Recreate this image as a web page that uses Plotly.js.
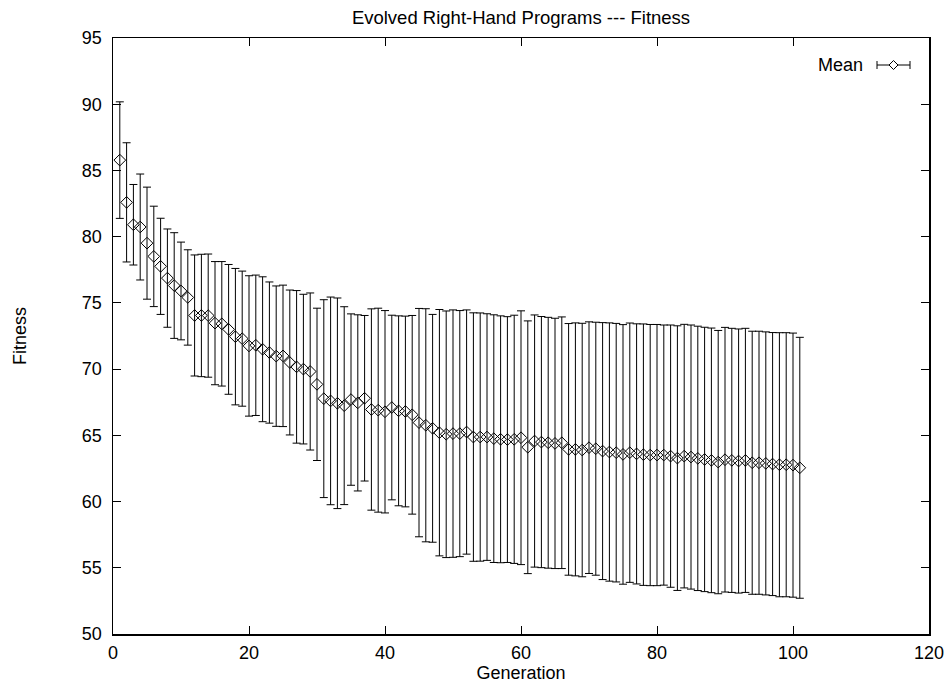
<!DOCTYPE html>
<html>
<head>
<meta charset="utf-8">
<script src="https://cdn.plot.ly/plotly-3.0.1.min.js"></script>
<style>
  html, body { margin: 0; padding: 0; background: #fff; }
  #chart { width: 950px; height: 683px; }
</style>
</head>
<body>
<div id="chart"></div>
<script>
// Generation numbers
const generation = [
  1,2,3,4,5,6,7,8,9,10,11,12,13,14,15,16,17,18,19,20,
  21,22,23,24,25,26,27,28,29,30,31,32,33,34,35,36,37,38,39,40,
  41,42,43,44,45,46,47,48,49,50,51,52,53,54,55,56,57,58,59,60,
  61,62,63,64,65,66,67,68,69,70,71,72,73,74,75,76,77,78,79,80,
  81,82,83,84,85,86,87,88,89,90,91,92,93,94,95,96,97,98,99,100,101
];

// Mean fitness per generation
const meanFitness = [
  85.78,82.59,80.90,80.73,79.51,78.51,77.76,76.87,76.31,75.90,
  75.41,74.05,74.05,74.04,73.47,73.42,73.00,72.45,72.30,71.75,
  71.80,71.50,71.25,70.98,71.00,70.50,70.17,70.00,69.82,68.85,
  67.77,67.60,67.42,67.24,67.70,67.45,67.80,66.95,66.90,66.78,
  67.10,66.85,66.80,66.55,65.96,65.76,65.53,65.20,65.08,65.13,
  65.13,65.25,64.87,64.87,64.87,64.75,64.70,64.68,64.70,64.82,
  64.10,64.57,64.49,64.44,64.39,64.44,63.94,63.94,63.89,64.07,
  63.99,63.81,63.74,63.69,63.56,63.69,63.60,63.54,63.51,63.51,
  63.51,63.43,63.28,63.43,63.36,63.26,63.18,63.11,62.98,63.16,
  63.11,63.06,63.11,62.93,62.93,62.88,62.83,62.78,62.78,62.75,
  62.55
];

// Error bar half-widths (symmetric)
const errorHalf = [
  4.40,4.50,3.04,4.00,4.23,3.79,3.63,3.71,3.99,3.69,
  3.60,4.57,4.62,4.65,4.65,4.70,4.90,5.15,5.10,5.30,
  5.30,5.47,5.33,5.30,5.34,5.47,5.76,5.65,5.93,5.75,
  7.47,7.84,7.95,7.47,6.47,6.65,6.25,7.60,7.70,7.64,
  6.97,7.17,7.20,7.50,8.62,8.80,8.60,9.30,9.31,9.34,
  9.29,9.22,9.38,9.37,9.31,9.35,9.32,9.28,9.37,9.58,
  9.54,9.52,9.48,9.47,9.45,9.50,9.50,9.55,9.57,9.50,
  9.55,9.70,9.75,9.76,9.80,9.79,9.82,9.87,9.86,9.86,
  9.82,9.90,9.99,9.95,9.97,9.98,9.98,9.99,9.94,9.99,
  9.97,9.97,9.97,9.93,9.93,9.93,9.93,9.97,9.97,9.97,
  9.85
];

const xTicks = [0, 20, 40, 60, 80, 100, 120];
const yTicks = [50, 55, 60, 65, 70, 75, 80, 85, 90, 95];

const FONT = "'Liberation Sans', Arial, Helvetica, sans-serif";

const trace = {
  x: generation,
  y: meanFitness,
  type: 'scatter',
  mode: 'markers',
  name: 'Mean',
  showlegend: false,
  marker: { symbol: 'diamond-open', size: 9, color: '#000', line: { width: 1, color: '#000' } },
  error_y: { type: 'data', array: errorHalf, visible: true, color: '#000', thickness: 1, width: 4 }
};

const axisCommon = {
  showgrid: false,
  zeroline: false,
  showline: true,
  linecolor: '#000',
  linewidth: 1.5,
  mirror: 'ticks',
  ticks: 'inside',
  ticklen: 8,
  tickwidth: 1,
  tickcolor: '#000',
  tickfont: { family: FONT, size: 18, color: '#000' }
};

const layout = {
  width: 950,
  height: 683,
  paper_bgcolor: '#fff',
  plot_bgcolor: '#fff',
  margin: { l: 113, r: 21, t: 38, b: 49 },
  font: { family: FONT, size: 18, color: '#000' },
  title: {
    text: 'Evolved Right-Hand Programs --- Fitness',
    font: { family: FONT, size: 18.5, color: '#000' },
    x: 0.5, xref: 'paper', xanchor: 'center',
    y: 1 - 18 / 683, yref: 'container', yanchor: 'middle'
  },
  xaxis: Object.assign({}, axisCommon, {
    range: [0, 120],
    tickmode: 'array',
    tickvals: xTicks,
    ticktext: xTicks.map(String),
    ticklabelstandoff: 2,
    title: { text: 'Generation', font: { family: FONT, size: 18, color: '#000' }, standoff: 4 },
    automargin: false
  }),
  yaxis: Object.assign({}, axisCommon, {
    range: [50, 95],
    tickmode: 'array',
    tickvals: yTicks,
    ticktext: yTicks.map(String),
    ticklabelstandoff: 6,
    title: { text: 'Fitness', font: { family: FONT, size: 18, color: '#000' }, standoff: 50 },
    automargin: false
  }),
  annotations: [
    {
      text: 'Mean',
      xref: 'paper', yref: 'paper',
      x: (865 - 113) / 816, y: (634 - 65) / 596,
      xanchor: 'right', yanchor: 'middle',
      showarrow: false,
      font: { family: FONT, size: 18, color: '#000' }
    }
  ],
  shapes: [
    {
      type: 'path',
      xref: 'paper', yref: 'paper',
      xsizemode: 'pixel', ysizemode: 'pixel',
      xanchor: (865 - 113) / 816, yanchor: (634 - 65) / 596,
      path: 'M12,0 L45,0 M12,-4 L12,4 M45,-4 L45,4',
      line: { color: '#000', width: 1 }
    },
    {
      type: 'path',
      xref: 'paper', yref: 'paper',
      xsizemode: 'pixel', ysizemode: 'pixel',
      xanchor: (865 - 113) / 816, yanchor: (634 - 65) / 596,
      path: 'M24,0 L28.5,4.5 L33,0 L28.5,-4.5 Z',
      fillcolor: '#fff',
      line: { color: '#000', width: 1 }
    }
  ]
};

Plotly.newPlot('chart', [trace], layout, { staticPlot: true, displayModeBar: false });
</script>
</body>
</html>
